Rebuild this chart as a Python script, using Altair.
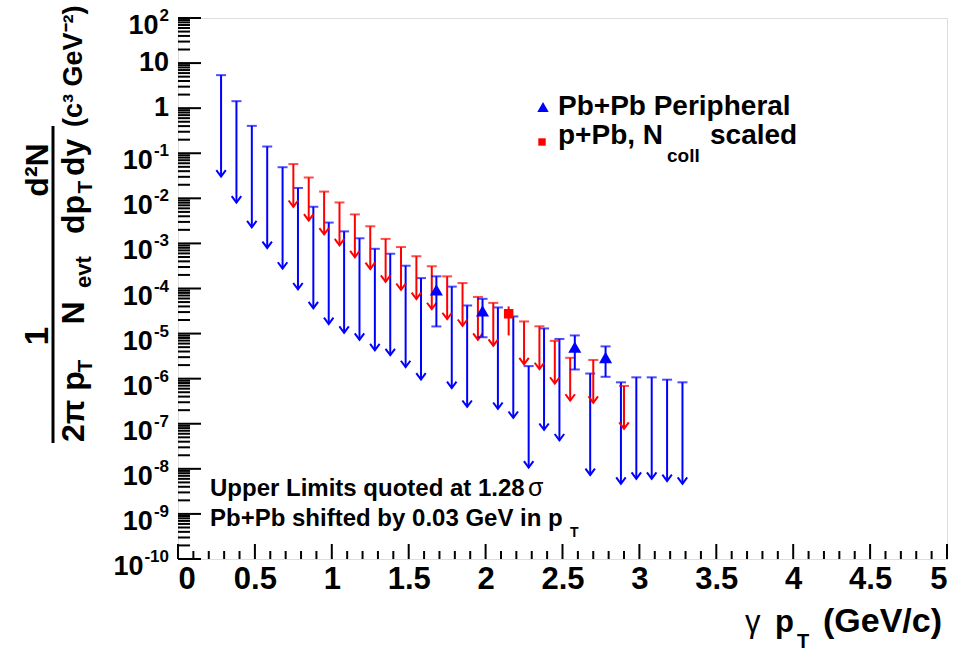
import altair as alt
import pandas as pd

# ---------------- data ----------------
# Pb+Pb peripheral: upper limits (x shifted by 0.03 GeV)
pbpb_ul_x = [0.28, 0.38, 0.48, 0.58, 0.68, 0.78, 0.88, 0.98, 1.08, 1.18, 1.28, 1.38,
             1.48, 1.58, 1.78, 1.88, 2.08, 2.18, 2.28, 2.38, 2.48, 2.68, 2.88, 2.98,
             3.08, 3.18, 3.28]
pbpb_ul = [5.4, 1.43, 0.405, 0.141, 0.049, 0.017, 6.5e-3, 2.9e-3, 1.85e-3, 1.3e-3,
           7.6e-4, 5.9e-4, 3.2e-4, 1.7e-4, 1.1e-4, 4.2e-5, 3.8e-5, 2.4e-5, 1.9e-6,
           1.3e-5, 7.6e-6, 1.3e-6, 8.3e-7, 1.07e-6, 1.07e-6, 9.5e-7, 8.3e-7]
# Pb+Pb peripheral: measured points
pbpb_x = [1.68, 1.98, 2.58, 2.78]
pbpb_y = [9.3e-5, 3.2e-5, 5.0e-6, 2.95e-6]
pbpb_hi = [1.86e-4, 5.9e-5, 9.1e-6, 5.2e-6]
pbpb_lo = [1.44e-5, 8.3e-6, 1.6e-6, 1.1e-6]

# p+Pb, Ncoll scaled: upper limits
ppb_ul_x = [0.75, 0.85, 0.95, 1.05, 1.15, 1.25, 1.35, 1.45, 1.55, 1.65, 1.75, 1.85,
            1.95, 2.05, 2.25, 2.35, 2.45, 2.55, 2.70, 2.90]
ppb_ul = [0.0575, 0.0288, 0.0141, 8.1e-3, 4.4e-3, 2.4e-3, 1.26e-3, 8.3e-4, 5.2e-4,
          3.1e-4, 1.86e-4, 1.32e-4, 6.5e-5, 4.8e-5, 1.86e-5, 1.45e-5, 6.9e-6, 2.9e-6,
          2.6e-6, 6.9e-7]
# p+Pb measured point
ppb_x = [2.15]
ppb_y = [2.75e-5]
ppb_hi = [4.0e-5]
ppb_lo = [9.1e-6]

# axis ticks / labels
x_major = [0, 0.5, 1, 1.5, 2, 2.5, 3, 3.5, 4, 4.5, 5]
y_exponents = [-10, -9, -8, -7, -6, -5, -4, -3, -2, -1, 0, 1, 2]

# ---------------- style / layout ----------------
BLUE = "#0000ff"
RED = "#ff0000"
FONT = "Liberation Sans"
L, T, W, H = 178, 18, 769, 541
BLUE_ARROW_DEC = 2.25   # drawn arrow length (decades)
RED_ARROW_DEC = 0.95

xs = alt.Scale(domain=[0, 5], nice=False, zero=False)
ys = alt.Scale(type="log", domain=[1e-10, 1e2], nice=False)
xaxis = alt.Axis(values=x_major, labelExpr="format(datum.value, '~g')", ticks=False,
                 domain=False, grid=False, title=None, labelFont=FONT,
                 labelFontSize=31, labelFontWeight="bold", labelColor="black",
                 labelPadding=5)


def X(f):
    return alt.X(f, type="quantitative", scale=xs, axis=xaxis)


def Y(f):
    return alt.Y(f, type="quantitative", scale=ys, axis=None)


one = pd.DataFrame({"a": [0]})


def txt(s, x, y, size, bold=True, angle=0, align="left", baseline="alphabetic", font=FONT):
    return alt.Chart(one).mark_text(
        text=s, fontSize=size, fontWeight="bold" if bold else "normal", angle=angle,
        align=align, baseline=baseline, font=font, color="black"
    ).encode(x=alt.value(x - L), y=alt.value(y - T))


layers = []

# ---- ticks (inside, ROOT style) ----
ymaj = pd.DataFrame({"v": [10.0 ** e for e in y_exponents]})
ymin = pd.DataFrame({"v": [m * 10.0 ** e for e in y_exponents[:-1] for m in range(2, 10)]})
xmaj = pd.DataFrame({"v": x_major})
xmin = pd.DataFrame({"v": [i / 10 for i in range(51) if i % 5 != 0]})
layers.append(alt.Chart(ymaj).mark_rule(color="black", strokeWidth=2).encode(
    y=Y("v"), x=alt.value(0), x2=alt.value(23)))
layers.append(alt.Chart(ymin).mark_rule(color="black", strokeWidth=2).encode(
    y=Y("v"), x=alt.value(0), x2=alt.value(12)))
layers.append(alt.Chart(xmaj).mark_rule(color="black", strokeWidth=2).encode(
    x=X("v"), y=alt.value(H), y2=alt.value(H - 15)))
layers.append(alt.Chart(xmin).mark_rule(color="black", strokeWidth=2).encode(
    x=X("v"), y=alt.value(H), y2=alt.value(H - 8)))

# ---- y tick labels (10 with superscript exponent) ----
AW = {"-": 0.333, "0": 0.556, "1": 0.556, "2": 0.556, "3": 0.556, "4": 0.556,
      "5": 0.556, "6": 0.556, "7": 0.556, "8": 0.556, "9": 0.556}
BASE_FS, EXP_FS, RIGHT = 27, 17, 169
plain = pd.DataFrame({"v": [10.0 ** e for e in y_exponents if e in (0, 1)],
                      "t": [str(int(10 ** e)) for e in y_exponents if e in (0, 1)]})
sup_rows = []
for e in y_exponents:
    if e in (0, 1):
        continue
    s = str(e)
    w = sum(AW[c] for c in s) * EXP_FS
    sup_rows.append({"v": 10.0 ** e, "base": "10", "exp": s,
                     "bx": RIGHT - L - w - 1})
sup = pd.DataFrame(sup_rows)
layers.append(alt.Chart(plain).mark_text(
    align="right", baseline="middle", font=FONT, fontSize=BASE_FS, fontWeight="bold",
    color="black").encode(y=Y("v"), x=alt.value(RIGHT - L), text="t:N"))
layers.append(alt.Chart(sup).mark_text(
    align="right", baseline="middle", font=FONT, fontSize=BASE_FS, fontWeight="bold",
    color="black", dy=8).encode(y=Y("v"), x=alt.X("bx:Q", scale=None), text="base:N"))
layers.append(alt.Chart(sup).mark_text(
    align="right", baseline="middle", font=FONT, fontSize=EXP_FS, fontWeight="bold",
    color="black", dy=-2).encode(y=Y("v"), x=alt.value(RIGHT - L), text="exp:N"))

# ---- upper-limit arrows ----
bul = pd.DataFrame({"x": pbpb_ul_x, "top": pbpb_ul})
bul["bot"] = bul["top"] / 10 ** BLUE_ARROW_DEC
rul = pd.DataFrame({"x": ppb_ul_x, "top": ppb_ul})
rul["bot"] = rul["top"] / 10 ** RED_ARROW_DEC
HEAD = "M-1,-1.35L0,0L1,-1.35"


def arrows(df, color):
    base = alt.Chart(df)
    return [
        base.mark_rule(color=color, strokeWidth=2).encode(x=X("x"), y=Y("top"), y2="bot"),
        base.mark_tick(color=color, orient="horizontal", size=10, thickness=2).encode(
            x=X("x"), y=Y("top")),
        base.mark_point(shape=HEAD, filled=False, color=color, strokeWidth=2, size=90,
                        opacity=1).encode(x=X("x"), y=Y("bot")),
    ]


layers += arrows(bul, BLUE)
layers += arrows(rul, RED)

# ---- measured points ----
bp = pd.DataFrame({"x": pbpb_x, "y": pbpb_y, "hi": pbpb_hi, "lo": pbpb_lo})
rp = pd.DataFrame({"x": ppb_x, "y": ppb_y, "hi": ppb_hi, "lo": ppb_lo})
layers.append(alt.Chart(bp).mark_rule(color=BLUE, strokeWidth=2).encode(
    x=X("x"), y=Y("lo"), y2="hi"))
layers.append(alt.Chart(bp).mark_tick(color=BLUE, orient="horizontal", size=10, thickness=2)
              .encode(x=X("x"), y=Y("hi")))
layers.append(alt.Chart(bp).mark_tick(color=BLUE, orient="horizontal", size=10, thickness=2)
              .encode(x=X("x"), y=Y("lo")))
layers.append(alt.Chart(bp).mark_point(shape="triangle-up", filled=True, color=BLUE,
                                       size=170, opacity=1).encode(x=X("x"), y=Y("y")))
layers.append(alt.Chart(rp).mark_rule(color=RED, strokeWidth=2).encode(
    x=X("x"), y=Y("lo"), y2="hi"))
layers.append(alt.Chart(rp).mark_point(shape="square", filled=True, color=RED,
                                       size=90, opacity=1).encode(x=X("x"), y=Y("y")))

# ---- legend ----
layers.append(alt.Chart(one).mark_point(shape="triangle-up", filled=True, color=BLUE,
                                        size=130, opacity=1).encode(
    x=alt.value(543 - L), y=alt.value(107 - T)))
layers.append(alt.Chart(one).mark_point(shape="square", filled=True, color=RED,
                                        size=55, opacity=1).encode(
    x=alt.value(542 - L), y=alt.value(142 - T)))
layers.append(txt("Pb+Pb Peripheral", 558, 115, 28))
layers.append(txt("p+Pb, N", 558, 144, 28))
layers.append(txt("coll", 667, 162, 19))
layers.append(txt("scaled", 710, 144, 28))

# ---- annotations ----
layers.append(txt("Upper Limits quoted at 1.28", 210, 496, 24))
layers.append(txt("σ", 528, 496, 25, bold=False))
layers.append(txt("Pb+Pb shifted by 0.03 GeV in p", 210, 526, 24))
layers.append(txt("T", 570, 537, 14))

# ---- x title ----
layers.append(txt("γ", 745, 632, 31, bold=False))
layers.append(txt("p", 775, 632, 31))
layers.append(txt("T", 797, 648, 20))
layers.append(txt("(GeV/c)", 823, 632, 34))

# ---- y title (rotated, reads bottom to top) ----
A = 270
layers.append(txt("1", 48, 336, 33, angle=A, align="center"))
layers.append(alt.Chart(one).mark_rule(color="black", strokeWidth=3).encode(
    x=alt.value(53 - L), y=alt.value(236 - T), y2=alt.value(443 - T)))
layers.append(txt("2π p", 84, 442, 32, angle=A))
layers.append(txt("T", 92, 366, 21, angle=A, align="center"))
layers.append(txt("N", 84, 313, 32, angle=A, align="center"))
layers.append(txt("evt", 91, 272, 22, angle=A, align="center"))
layers.append(txt("d²N", 48, 170, 32, angle=A, align="center"))
layers.append(alt.Chart(one).mark_rule(color="black", strokeWidth=3).encode(
    x=alt.value(53 - L), y=alt.value(126 - T), y2=alt.value(236 - T)))
layers.append(txt("dp", 84, 234, 32, angle=A))
layers.append(txt("T", 92, 187, 21, angle=A, align="center"))
layers.append(txt("dy", 84, 176, 32, angle=A))
layers.append(txt("(c³ GeV⁻²)", 82, 127, 27, angle=A))

chart = alt.layer(*layers).properties(
    width=W, height=H,
    autosize=alt.AutoSizeParams(type="none"),
    padding={"left": L, "top": T, "right": 959 - L - W, "bottom": 652 - T - H},
).configure_view(stroke="black", strokeWidth=3).configure(background="white")

chart.save("out.html", embed_options={"renderer": "svg", "actions": False})
